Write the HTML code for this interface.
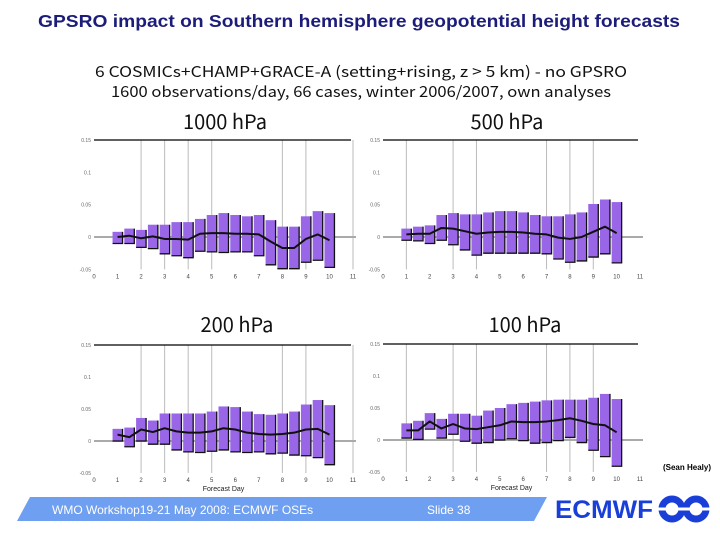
<!DOCTYPE html>
<html><head><meta charset="utf-8">
<style>
html,body{margin:0;padding:0;background:#fff;}
body{width:720px;height:540px;overflow:hidden;position:relative;font-family:"Liberation Sans","Noto Sans CJK JP",sans-serif;}
svg{position:absolute;left:0;top:0;}
</style></head>
<body>
<svg id="chart" width="720" height="540" viewBox="0 0 720 540">
<text x="359" y="27" text-anchor="middle" font-family="'Liberation Sans',sans-serif" font-weight="bold" font-size="17.5" fill="#1c1c7a" textLength="642" lengthAdjust="spacingAndGlyphs">GPSRO impact on Southern hemisphere geopotential height forecasts</text>
<text x="361" y="77" text-anchor="middle" font-family="'Noto Sans CJK JP','Liberation Sans',sans-serif" font-size="15" fill="#111" textLength="532" lengthAdjust="spacingAndGlyphs">6 COSMICs+CHAMP+GRACE-A (setting+rising, z &gt; 5 km) - no GPSRO</text>
<text x="361" y="97" text-anchor="middle" font-family="'Noto Sans CJK JP','Liberation Sans',sans-serif" font-size="15" fill="#111" textLength="500" lengthAdjust="spacingAndGlyphs">1600 observations/day, 66 cases, winter 2006/2007, own analyses</text>
<g id="panels"></g>
<text x="711" y="470" text-anchor="end" font-weight="bold" font-size="8" fill="#000">(Sean Healy)</text>
<polygon points="30,497 547,497 534,521 17,521" fill="#6f9ff0"/>
<text x="52" y="514" font-size="12" fill="#fff">WMO Workshop19-21 May 2008: ECMWF OSEs</text>
<text x="427" y="514" font-size="12" fill="#fff">Slide 38</text>
<text x="555" y="518" font-weight="bold" font-size="25" fill="#1a3fd8" textLength="98" lengthAdjust="spacingAndGlyphs">ECMWF</text>
<g fill="none" stroke="#1a3fd8" stroke-width="7">
<circle cx="672" cy="509" r="10"/><circle cx="696" cy="509" r="10"/>
<line x1="652" y1="509" x2="716" y2="509" stroke="#fff" stroke-width="3"/>
</g>
</svg>
<script>
const days = [1,1.5,2,2.5,3,3.5,4,4.5,5,5.5,6,6.5,7,7.5,8,8.5,9,9.5,10];
const yTicks = [0.15,0.1,0.05,0,-0.05];
const yTickLabels = ["0.15","0.1","0.05","0","-0.05"];
const xTicks = [0,1,2,3,4,5,6,7,8,9,10,11];
const titles = ["1000 hPa","500 hPa","200 hPa","100 hPa"];
const hi1000 = [0.008,0.013,0.011,0.019,0.019,0.023,0.023,0.028,0.034,0.037,0.034,0.032,0.034,0.026,0.016,0.016,0.032,0.040,0.037];
const lo1000 = [-0.010,-0.010,-0.016,-0.018,-0.026,-0.029,-0.032,-0.022,-0.023,-0.024,-0.023,-0.023,-0.029,-0.043,-0.049,-0.049,-0.039,-0.036,-0.047];
const mean1000 = [0,0.002,-0.002,0.001,-0.003,-0.003,-0.004,0.005,0.006,0.006,0.005,0.005,0.004,-0.007,-0.017,-0.017,-0.003,0.004,-0.005];
const hi500 = [0.013,0.016,0.018,0.034,0.037,0.035,0.035,0.038,0.040,0.040,0.038,0.034,0.032,0.032,0.035,0.038,0.051,0.058,0.054];
const lo500 = [-0.005,-0.006,-0.010,-0.005,-0.012,-0.020,-0.028,-0.025,-0.025,-0.025,-0.025,-0.025,-0.026,-0.034,-0.039,-0.037,-0.031,-0.026,-0.040];
const mean500 = [0.004,0.005,0.005,0.014,0.013,0.009,0.005,0.007,0.008,0.008,0.007,0.005,0.004,-0.001,-0.003,0,0.008,0.016,0.006];
const hi200 = [0.019,0.021,0.036,0.032,0.043,0.043,0.043,0.043,0.046,0.054,0.053,0.046,0.042,0.041,0.043,0.046,0.057,0.064,0.056];
const lo200 = [0,-0.009,0,-0.005,-0.005,-0.014,-0.017,-0.018,-0.016,-0.014,-0.017,-0.018,-0.017,-0.020,-0.019,-0.022,-0.023,-0.026,-0.037];
const mean200 = [0.010,0.006,0.018,0.014,0.020,0.015,0.013,0.013,0.015,0.020,0.018,0.013,0.011,0.010,0.011,0.013,0.018,0.019,0.010];
const hi100 = [0.026,0.030,0.042,0.033,0.041,0.041,0.038,0.046,0.050,0.056,0.058,0.060,0.062,0.063,0.063,0.063,0.066,0.072,0.064];
const lo100 = [0.003,0.001,0.017,0.003,0.009,-0.002,-0.005,-0.004,0,0.002,-0.001,-0.005,-0.004,-0.001,0.004,-0.004,-0.016,-0.026,-0.041];
const mean100 = [0.015,0.015,0.029,0.018,0.025,0.018,0.017,0.020,0.023,0.029,0.028,0.028,0.029,0.031,0.034,0.030,0.025,0.023,0.012];
const grid1 = [2,3,4,5,8,9,11];
const grid2 = [1,3,4,7,8,9];

const NS="http://www.w3.org/2000/svg";
const root=document.getElementById('panels');
function mk(tag,attrs,parent){const e=document.createElementNS(NS,tag);for(const k in attrs)e.setAttribute(k,attrs[k]);(parent||root).appendChild(e);return e;}

const panels=[
 {x0:94,x1:353,y0:140,yz:237,title:titles[0],tx:225,ty:129,hi:hi1000,lo:lo1000,mean:mean1000,grid:grid1,xl:false,key:"1000"},
 {x0:383,x1:640,y0:140,yz:237,title:titles[1],tx:507,ty:129,hi:hi500,lo:lo500,mean:mean500,grid:grid2,xl:false,key:"500"},
 {x0:94,x1:353,y0:345,yz:441,title:titles[2],tx:237,ty:332,hi:hi200,lo:lo200,mean:mean200,grid:grid1,xl:true,key:"200"},
 {x0:383,x1:640,y0:344,yz:440,title:titles[3],tx:525,ty:332,hi:hi100,lo:lo100,mean:mean100,grid:grid2,xl:true,key:"100"}
];
panels.forEach(p=>{
 const g=mk('g',{});
 
 
 const sy=(p.yz-p.y0)/0.15;
 const Y=v=>p.yz-v*sy;
 const X=d=>p.x0+(p.x1-p.x0)*d/11;
 const t=mk('text',{x:p.tx,y:p.ty,'text-anchor':'middle','font-size':'20','fill':'#111','font-family':"'Noto Sans CJK JP','Liberation Sans',sans-serif"},g);
 t.textContent=p.title;
 
 
 p.grid.forEach(d=>{
  const l=mk('line',{x1:X(d),x2:X(d),y1:p.y0,y2:Y(-0.05),stroke:'#bbb','stroke-width':1},g);
  
  
 });
 const top=mk('line',{x1:p.x0,x2:p.x1-2,y1:p.y0,y2:p.y0,stroke:'#000','stroke-width':1.2},g);
 
 
 const zl=mk('line',{x1:p.x0,x2:p.x1+3,y1:Y(0),y2:Y(0),stroke:'#aaa','stroke-width':2},g);
 
 
 yTicks.forEach((v,i)=>{
  const tl=mk('text',{x:p.x0-3,y:Y(v)+2,'text-anchor':'end','font-size':'5','fill':'#666'},g);
  tl.textContent=yTickLabels[i];
  
  
 });
 xTicks.forEach(d=>{
  const tl=mk('text',{x:X(d),y:Y(-0.05)+9,'text-anchor':'middle','font-size':'6','fill':'#444'},g);
  tl.textContent=String(d);
  
  
 });
 if(p.xl){
  const xt=mk('text',{x:X(5.5),y:Y(-0.05)+18,'text-anchor':'middle','font-size':'7','fill':'#222'},g);
  xt.textContent='Forecast Day';
  
  
 }
 const w=10;
 days.forEach((d,i)=>{
  const yt=Y(p.hi[i]), yb=Y(p.lo[i]);
  const r=mk('rect',{x:X(d)-w/2,y:yt,width:w,height:yb-yt,fill:'#9966e8'},g);
  
  
  const e=mk('polyline',{points:(X(d)+w/2)+','+yt+' '+(X(d)+w/2)+','+yb+' '+(X(d)-w/2)+','+yb,fill:'none',stroke:'#111','stroke-width':1.3},g);
  
  
 });
 const pl=mk('polyline',{points:days.map((d,i)=>X(d)+','+Y(p.mean[i])).join(' '),fill:'none',stroke:'#111','stroke-width':2,'stroke-linejoin':'round'},g);
 
 
});
</script>
</body></html>
